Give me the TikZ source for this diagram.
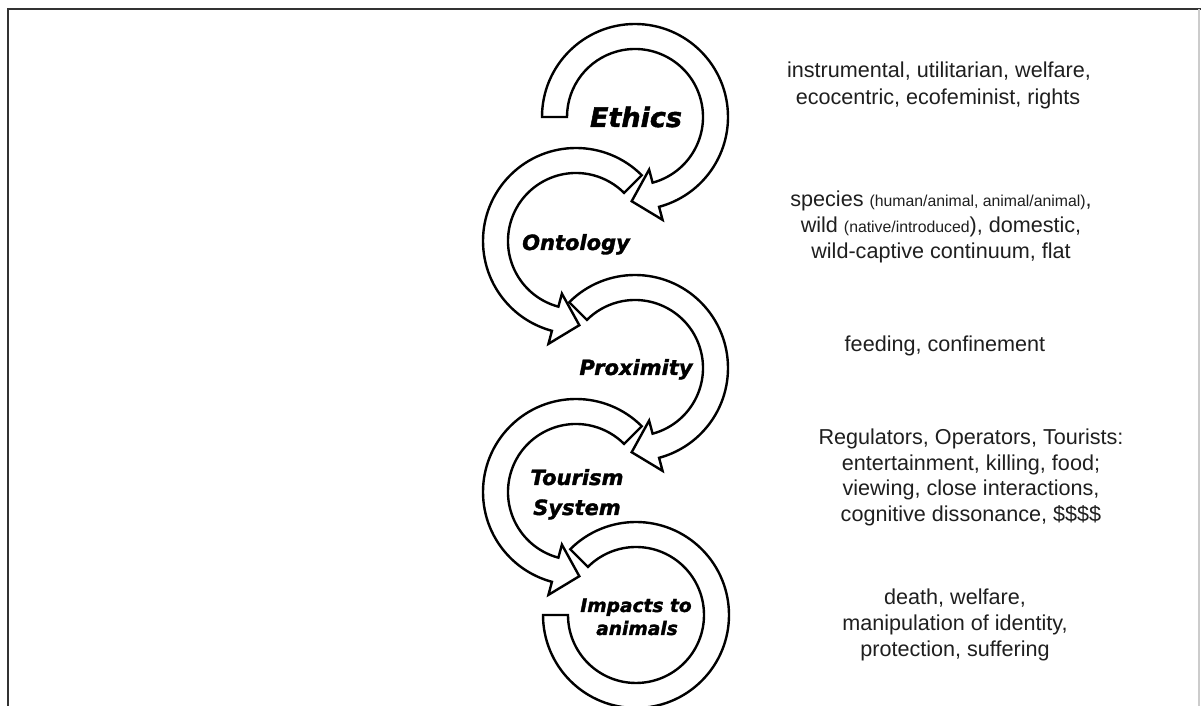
\documentclass[tikz,border=0pt]{standalone}
\usepackage{fontspec}
\setmainfont{Liberation Sans}
\newfontfamily\descfont{Liberation Sans}
\newfontfamily\labfont{DejaVu Sans}[BoldItalicFeatures={FakeBold=1.6}]
\newcommand\bRo{93}
\newcommand\bRi{68}
\newcommand\bRm{80.5}
\newcommand\bRb{106.5}
\newcommand\bRc{54.5}
\newcommand\bHL{25}
% clockwise band with arrowhead, from angle #1 down to angle #2
\newcommand\cwarrow[2]{%
  \draw[band] (#1:\bRo) arc[start angle=#1, end angle=#2, radius=\bRo]
    -- (#2:\bRb) -- ({\bRm*cos(#2)+\bHL*sin(#2)},{\bRm*sin(#2)-\bHL*cos(#2)})
    -- (#2:\bRc) -- (#2:\bRi) arc[start angle=#2, end angle=#1, radius=\bRi] -- cycle;}
% counter-clockwise band with arrowhead, from angle #1 up to angle #2
\newcommand\ccwarrow[2]{%
  \draw[band] (#1:\bRo) arc[start angle=#1, end angle=#2, radius=\bRo]
    -- (#2:\bRb) -- ({\bRm*cos(#2)-\bHL*sin(#2)},{\bRm*sin(#2)+\bHL*cos(#2)})
    -- (#2:\bRc) -- (#2:\bRi) arc[start angle=#2, end angle=#1, radius=\bRi] -- cycle;}
\newcommand\smalltxt[1]{{\fontsize{7.9}{10}\selectfont #1}}
\begin{document}
\begin{tikzpicture}[x=0.5pt,y=0.5pt,
  band/.style={draw=black, fill=white, line width=1.2pt, line join=miter},
  desc/.style={anchor=base, inner sep=0pt, text=black!88, font=\descfont\fontsize{10.8}{13}\selectfont},
  lab/.style={anchor=base, inner sep=0pt, font=\labfont\bfseries\itshape\fontsize{10.5}{12}\selectfont},
  frameline/.style={draw=black!80, line width=1pt}]
\useasboundingbox (0,0) rectangle (1201,706);
\fill[white] (0,0) rectangle (1201,706);
% frame
\coordinate (fa) at (8,0);
\coordinate (fb) at (8,697);
\coordinate (fc) at (1201,697);
\draw[frameline] (fa) -- (fb) -- (fc);
\coordinate (fd) at (1199,697);
\coordinate (fe) at (1199,0);
\draw[black!20, line width=0.6pt] (fd) -- (fe);
% circle centres
\coordinate (eth) at (635,589);
\coordinate (ont) at (576,465);
\coordinate (pro) at (635,338);
\coordinate (tou) at (576,214);
\coordinate (imp) at (636,91);
% bands
\begin{scope}[shift={(imp)}]
  \draw[band] (135:\bRo) arc[start angle=135, end angle=-180, radius=\bRo]
    -- (-180:\bRi) arc[start angle=-180, end angle=135, radius=\bRi] -- cycle;
\end{scope}
\begin{scope}[shift={(tou)}]\ccwarrow{45}{255}\end{scope}
\begin{scope}[shift={(pro)}]\cwarrow{135}{-75}\end{scope}
\begin{scope}[shift={(ont)}]\ccwarrow{45}{255}\end{scope}
\begin{scope}[shift={(eth)}]\cwarrow{180}{-75}\end{scope}
% labels in circles
\node[lab, font=\labfont\bfseries\itshape\fontsize{13.5}{15}\selectfont] (lEth) at (636,579) {Ethics};
\node[lab] (lOnt) at (576,456) {Ontology};
\node[lab] (lPro) at (636,331) {Proximity};
\node[lab] (lTou1) at (577,221) {Tourism};
\node[lab] (lTou2) at (577,191) {System};
\node[lab, font=\labfont\bfseries\itshape\fontsize{9.3}{11}\selectfont] (lImp1) at (636,94) {Impacts to};
\node[lab, font=\labfont\bfseries\itshape\fontsize{9.3}{11}\selectfont] (lImp2) at (637,71) {animals};
% descriptions
\node[desc] (e1) at (939,628) {instrumental, utilitarian, welfare,};
\node[desc] (e2) at (938,601) {ecocentric, ecofeminist, rights};
\node[desc] (o1) at (941,499) {species \smalltxt{(human/animal, animal/animal)},};
\node[desc] (o2) at (941,473) {wild \smalltxt{(native/introduced}), domestic,};
\node[desc] (o3) at (941,447) {wild-captive continuum, flat};
\node[desc] (p1) at (945,354) {feeding, confinement};
\node[desc] (t1) at (971,261) {Regulators, Operators, Tourists:};
\node[desc] (t2) at (971,235) {entertainment, killing, food;};
\node[desc] (t3) at (971,210) {viewing, close interactions,};
\node[desc] (t4) at (971,184) {cognitive dissonance, \$\$\$\$};
\node[desc] (i1) at (955,101) {death, welfare,};
\node[desc] (i2) at (955,75) {manipulation of identity,};
\node[desc] (i3) at (955,49) {protection, suffering};
\end{tikzpicture}
\end{document}
